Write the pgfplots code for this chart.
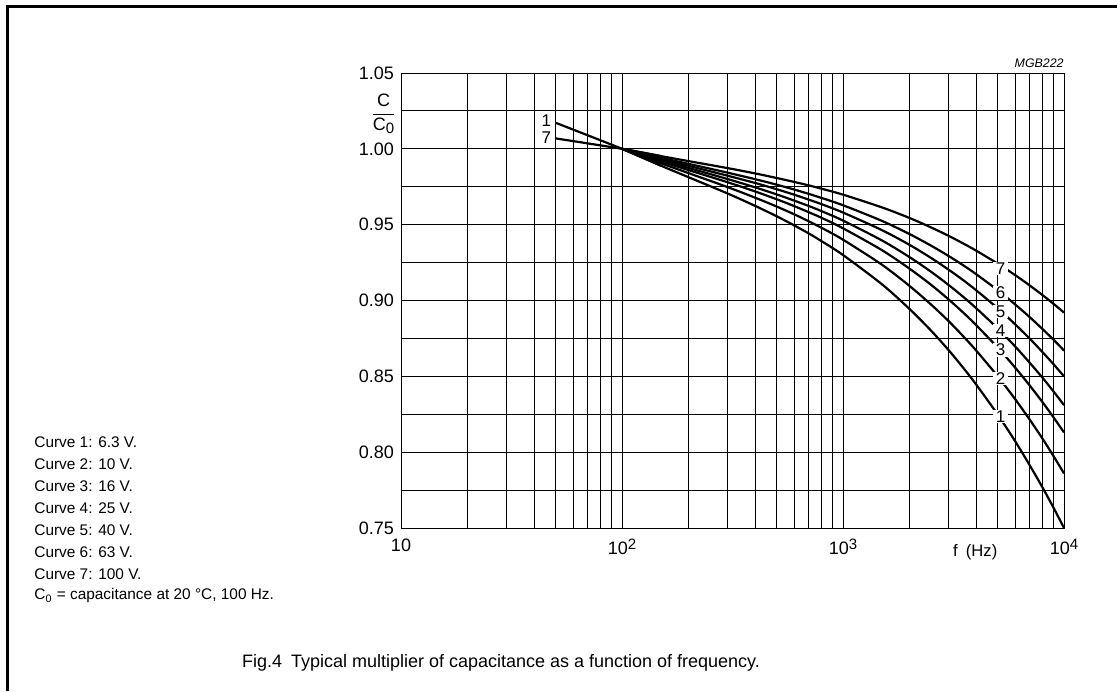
\documentclass[border=0pt]{standalone}
\usepackage{fontspec}
\setmainfont{Liberation Sans}
\usepackage{pgfplots}
\pgfplotsset{compat=1.18}
% f in Hz, curves 1..7 (C/C0)
\pgfplotstableread{
f c1 c2 c3 c4 c5 c6 c7
100 1 1 1 1 1 1 1
150 .9889 .9905 .9917 .9925 .9933 .9941 .9952
200 .9813 .9840 .9860 .9874 .9888 .9901 .9919
300 .9706 .9748 .9780 .9801 .9823 .9843 .9873
400 .9624 .9678 .9719 .9746 .9775 .9800 .9838
500 .9556 .9620 .9668 .9700 .9734 .9764 .9808
600 .9496 .9569 .9623 .9659 .9698 .9732 .9782
700 .9442 .9522 .9582 .9623 .9665 .9703 .9759
800 .9391 .9479 .9545 .9589 .9635 .9676 .9737
1000 .9300 .9401 .9476 .9527 .9580 .9628 .9698
1500 .9107 .9236 .9332 .9396 .9464 .9525 .9614
2000 .8944 .9096 .9210 .9286 .9367 .9438 .9544
2500 .8802 .8974 .9104 .9190 .9281 .9362 .9482
3000 .8674 .8865 .9008 .9103 .9204 .9294 .9427
3500 .8556 .8764 .8920 .9024 .9134 .9232 .9376
4000 .8447 .8671 .8838 .8950 .9068 .9174 .9329
5000 .8250 .8502 .8691 .8817 .8950 .9069 .9244
6000 .8074 .8351 .8559 .8698 .8844 .8975 .9168
7000 .7913 .8214 .8439 .8589 .8748 .8890 .9099
8000 .7766 .8088 .8329 .8490 .8659 .8811 .9035
9000 .7629 .7970 .8226 .8397 .8577 .8739 .8976
10000 .7500 .7860 .8130 .8310 .8500 .8670 .8920
}\curves
\pgfplotstableread{
f c1 c7
50 1.0172 1.0069
100 1 1
150 .9889 .9952
}\lowend
\begin{document}
\begin{tikzpicture}[x=1pt,y=1pt]
\useasboundingbox (0,0) rectangle (558.5,345.5);
\draw[line width=1.5pt] (3.5,0) -- (3.5,342) -- (558.5,342);
\begin{axis}[
  at={(200.5pt,81.5pt)}, anchor=south west,
  scale only axis, width=331.5pt, height=227.5pt,
  xmode=log, log basis x=10, xmin=10, xmax=10000, ymin=0.75, ymax=1.05,
  xtick={10,100,1000,10000},
  xticklabels={10,10\raisebox{0.55ex}{\fontsize{7.5}{8}\selectfont 2},10\raisebox{0.55ex}{\fontsize{7.5}{8}\selectfont 3},10\raisebox{0.55ex}{\fontsize{7.5}{8}\selectfont 4}},
  minor xtick={20,30,40,50,60,70,80,90,200,300,400,500,600,700,800,900,2000,3000,4000,5000,6000,7000,8000,9000},
  ytick={0.75,0.80,0.85,0.90,0.95,1.00,1.05},
  yticklabels={0.75,0.80,0.85,0.90,0.95,1.00,1.05},
  minor ytick={0.775,0.825,0.875,0.925,0.975,1.025},
  grid=both,
  major grid style={black, line width=0.45pt},
  minor grid style={black, line width=0.45pt},
  axis line style={line width=0.45pt},
  major tick length=0pt, minor tick length=0pt,
  tick label style={font=\fontsize{9}{10}\selectfont},
  xticklabel style={yshift=-2pt},
  clip=false,
]
\addplot[black, line width=1.1pt, smooth] table[x=f,y=c1] {\lowend};
\addplot[black, line width=1.1pt, smooth] table[x=f,y=c7] {\lowend};
\addplot[black, line width=1.1pt, smooth] table[x=f,y=c1] {\curves};
\addplot[black, line width=1.1pt, smooth] table[x=f,y=c2] {\curves};
\addplot[black, line width=1.1pt, smooth] table[x=f,y=c3] {\curves};
\addplot[black, line width=1.1pt, smooth] table[x=f,y=c4] {\curves};
\addplot[black, line width=1.1pt, smooth] table[x=f,y=c5] {\curves};
\addplot[black, line width=1.1pt, smooth] table[x=f,y=c6] {\curves};
\addplot[black, line width=1.1pt, smooth] table[x=f,y=c7] {\curves};
\begin{scope}[every node/.style={fill=white, inner xsep=1.6pt, inner ysep=0.4pt, font=\fontsize{8.5}{9}\selectfont, xshift=1.5pt}]
\node at (axis cs:5000,0.9212) {7};
\node at (axis cs:5000,0.9051) {6};
\node at (axis cs:5000,0.8926) {5};
\node at (axis cs:5000,0.8801) {4};
\node at (axis cs:5000,0.8673) {3};
\node at (axis cs:5000,0.8486) {2};
\node at (axis cs:5000,0.8234) {1};
\end{scope}
\node[anchor=east, inner sep=0.5pt, font=\fontsize{8.5}{9}\selectfont] at (axis cs:50,1.0184) [xshift=-1.5pt] {1};
\node[anchor=east, inner sep=0.5pt, font=\fontsize{8.5}{9}\selectfont] at (axis cs:50,1.0071) [xshift=-1.5pt] {7};
\node[anchor=east, inner sep=0pt, font=\fontsize{9}{10}\selectfont] at (rel axis cs:0,0.91) [xshift=-2pt] {$\displaystyle\frac{\mbox{C}}{\mbox{C\raisebox{-0.3ex}{\fontsize{7.5}{8}\selectfont 0}}}$};
\node[anchor=south east, inner sep=0pt, font=\fontsize{6.2}{7}\selectfont\itshape] at (rel axis cs:1,1) [yshift=2.5pt] {MGB222};
\node[font=\fontsize{8.3}{9}\selectfont] at (rel axis cs:0.866,0) [yshift=-12pt] {f\enspace(Hz)};
\end{axis}
\begin{scope}[every node/.style={anchor=west, inner sep=0pt, font=\fontsize{7.7}{8}\selectfont}]
\node at (17,124.5) {Curve 1: 6.3 V.};
\node at (17,113.5) {Curve 2: 10 V.};
\node at (17,102.5) {Curve 3: 16 V.};
\node at (17,91.5) {Curve 4: 25 V.};
\node at (17,80.5) {Curve 5: 40 V.};
\node at (17,69.5) {Curve 6: 63 V.};
\node at (17,58.5) {Curve 7: 100 V.};
\node at (17,47.5) {C\textsubscript{0} = capacitance at 20 °C, 100 Hz.};
\end{scope}
\node[font=\fontsize{9}{10}\selectfont] at (250.5,14) {Fig.4\enspace Typical multiplier of capacitance as a function of frequency.};
\end{tikzpicture}
\end{document}
